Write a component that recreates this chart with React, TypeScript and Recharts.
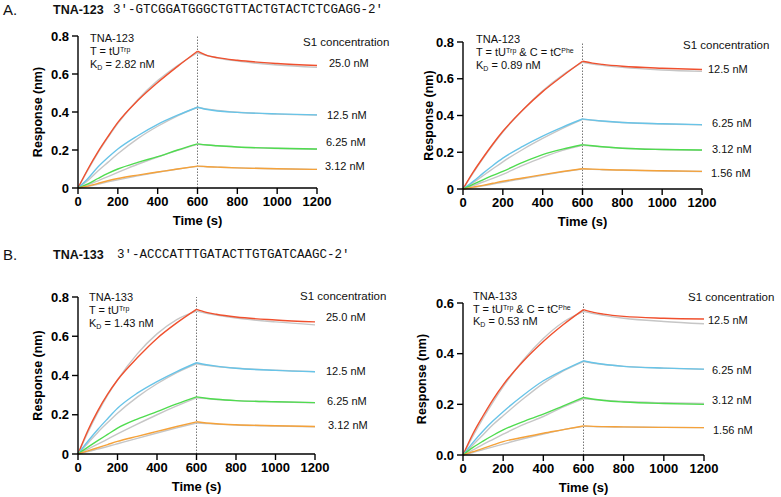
import React from 'react';
import { LineChart, Line, XAxis, YAxis, ReferenceLine, Label } from 'recharts';

const time = [0, 50, 100, 150, 200, 300, 400, 500, 600, 650, 700, 800, 1000, 1200];
const timeTicks = [0, 200, 400, 600, 800, 1000, 1200];
const switchTime = 600; // association -> dissociation

// A, left: TNA-123, T = tU(Trp)
const a1Conc = ['25.0 nM', '12.5 nM', '6.25 nM', '3.12 nM'];
const a1Red = [0, 0.1, 0.19, 0.27, 0.345, 0.46, 0.555, 0.64, 0.72, 0.697, 0.686, 0.672, 0.655, 0.645];
const a1RedFit = [0, 0.095, 0.185, 0.265, 0.34, 0.465, 0.565, 0.645, 0.712, 0.696, 0.684, 0.668, 0.647, 0.635];
const a1Blue = [0, 0.05, 0.11, 0.16, 0.205, 0.275, 0.335, 0.383, 0.425, 0.413, 0.405, 0.398, 0.39, 0.385];
const a1BlueFit = [0, 0.04, 0.09, 0.135, 0.18, 0.26, 0.325, 0.38, 0.425, 0.415, 0.408, 0.399, 0.389, 0.384];
const a1Green = [0, 0.022, 0.05, 0.077, 0.1, 0.135, 0.165, 0.2, 0.232, 0.226, 0.222, 0.216, 0.209, 0.205];
const a1GreenFit = [0, 0.016, 0.038, 0.06, 0.082, 0.125, 0.163, 0.198, 0.23, 0.226, 0.222, 0.215, 0.208, 0.204];
const a1Orange = [0, 0.01, 0.024, 0.038, 0.05, 0.068, 0.084, 0.1, 0.115, 0.112, 0.11, 0.106, 0.101, 0.098];
const a1OrangeFit = [0, 0.009, 0.02, 0.032, 0.043, 0.064, 0.083, 0.1, 0.114, 0.112, 0.11, 0.106, 0.101, 0.098];

// A, right: TNA-123, T = tU(Trp) & C = tC(Phe)
const a2Conc = ['12.5 nM', '6.25 nM', '3.12 nM', '1.56 nM'];
const a2Red = [0, 0.09, 0.17, 0.245, 0.314, 0.43, 0.53, 0.615, 0.695, 0.685, 0.678, 0.668, 0.657, 0.65];
const a2RedFit = [0, 0.085, 0.165, 0.24, 0.31, 0.43, 0.535, 0.62, 0.69, 0.68, 0.673, 0.662, 0.648, 0.64];
const a2Blue = [0, 0.04, 0.085, 0.128, 0.168, 0.232, 0.288, 0.337, 0.381, 0.375, 0.37, 0.362, 0.355, 0.35];
const a2BlueFit = [0, 0.035, 0.072, 0.11, 0.148, 0.215, 0.275, 0.33, 0.379, 0.374, 0.369, 0.362, 0.354, 0.349];
const a2Green = [0, 0.025, 0.05, 0.074, 0.096, 0.145, 0.187, 0.217, 0.241, 0.235, 0.23, 0.222, 0.215, 0.212];
const a2GreenFit = [0, 0.018, 0.038, 0.058, 0.08, 0.128, 0.172, 0.21, 0.238, 0.234, 0.229, 0.222, 0.215, 0.211];
const a2Orange = [0, 0.01, 0.02, 0.031, 0.042, 0.06, 0.078, 0.095, 0.11, 0.108, 0.106, 0.103, 0.099, 0.096];
const a2OrangeFit = [0, 0.008, 0.017, 0.027, 0.037, 0.056, 0.075, 0.093, 0.109, 0.107, 0.105, 0.102, 0.098, 0.095];

// B, left: TNA-133, T = tU(Trp)
const b1Conc = ['25.0 nM', '12.5 nM', '6.25 nM', '3.12 nM'];
const b1Red = [0, 0.12, 0.22, 0.305, 0.377, 0.49, 0.589, 0.668, 0.737, 0.722, 0.712, 0.698, 0.683, 0.673];
const b1RedFit = [0, 0.11, 0.21, 0.3, 0.378, 0.51, 0.612, 0.685, 0.728, 0.717, 0.708, 0.693, 0.673, 0.658];
const b1Blue = [0, 0.065, 0.125, 0.18, 0.233, 0.31, 0.369, 0.42, 0.465, 0.455, 0.448, 0.437, 0.426, 0.419];
const b1BlueFit = [0, 0.055, 0.11, 0.16, 0.208, 0.29, 0.358, 0.415, 0.46, 0.452, 0.446, 0.437, 0.427, 0.42];
const b1Green = [0, 0.035, 0.068, 0.1, 0.132, 0.178, 0.216, 0.255, 0.291, 0.284, 0.279, 0.272, 0.266, 0.262];
const b1GreenFit = [0, 0.025, 0.05, 0.076, 0.102, 0.152, 0.2, 0.245, 0.286, 0.282, 0.278, 0.272, 0.266, 0.261];
const b1Orange = [0, 0.016, 0.032, 0.048, 0.064, 0.09, 0.115, 0.14, 0.164, 0.158, 0.154, 0.149, 0.144, 0.14];
const b1OrangeFit = [0, 0.012, 0.025, 0.038, 0.052, 0.08, 0.107, 0.133, 0.158, 0.155, 0.152, 0.148, 0.143, 0.139];

// B, right: TNA-133, T = tU(Trp) & C = tC(Phe)
const b2Conc = ['12.5 nM', '6.25 nM', '3.12 nM', '1.56 nM'];
const b2Red = [0, 0.085, 0.155, 0.22, 0.277, 0.37, 0.448, 0.515, 0.574, 0.563, 0.556, 0.547, 0.54, 0.537];
const b2RedFit = [0, 0.075, 0.145, 0.21, 0.27, 0.375, 0.46, 0.525, 0.567, 0.558, 0.551, 0.54, 0.527, 0.518];
const b2Blue = [0, 0.05, 0.095, 0.135, 0.171, 0.236, 0.293, 0.335, 0.372, 0.364, 0.358, 0.35, 0.343, 0.339];
const b2BlueFit = [0, 0.04, 0.08, 0.12, 0.155, 0.222, 0.283, 0.332, 0.369, 0.362, 0.357, 0.35, 0.343, 0.338];
const b2Green = [0, 0.03, 0.055, 0.078, 0.099, 0.132, 0.161, 0.194, 0.227, 0.22, 0.215, 0.209, 0.203, 0.2];
const b2GreenFit = [0, 0.02, 0.042, 0.062, 0.082, 0.12, 0.152, 0.19, 0.222, 0.219, 0.216, 0.211, 0.206, 0.203];
const b2Orange = [0, 0.013, 0.026, 0.04, 0.053, 0.07, 0.086, 0.1, 0.115, 0.113, 0.112, 0.111, 0.109, 0.108];
const b2OrangeFit = [0, 0.01, 0.021, 0.032, 0.043, 0.064, 0.083, 0.1, 0.113, 0.112, 0.111, 0.11, 0.109, 0.108];

const ticks08 = [0, 0.2, 0.4, 0.6, 0.8];
const ticks06 = [0, 0.2, 0.4, 0.6];

const colors = ['#f0502e', '#68c4e8', '#4fdc4f', '#f5a23a'];
const fitColor = '#c6c6c6';
const sans = '"Liberation Sans", Arial, Helvetica, sans-serif';
const mono = '"Liberation Mono", "Courier New", monospace';

const zeroPlain = (v: number) => (v === 0 ? '0' : v.toFixed(1));
const oneDecimal = (v: number) => v.toFixed(1);

interface PanelProps {
  x0: number;
  x1: number;
  yTop: number;
  yBottom: number;
  yMax: number;
  yTicks: number[];
  fmt: (v: number) => string;
  series: number[][];
  fits: number[][];
  yLabelOffset: number;
}

const Panel: React.FC<PanelProps> = ({ x0, x1, yTop, yBottom, yMax, yTicks, fmt, series, fits, yLabelOffset }) => {
  // split each trace in association (<= 600 s) and dissociation (>= 600 s) so the peak stays sharp
  const rows = time.map((t, i) => {
    const row: Record<string, number | null> = { t };
    series.forEach((s, k) => {
      row[`sa${k}`] = t <= switchTime ? s[i] : null;
      row[`sd${k}`] = t >= switchTime ? s[i] : null;
    });
    fits.forEach((f, k) => {
      row[`fa${k}`] = t <= switchTime ? f[i] : null;
      row[`fd${k}`] = t >= switchTime ? f[i] : null;
    });
    return row;
  });
  const width = 60 + (x1 - x0) + 20;
  const height = (yBottom - yTop) + 10 + 40;
  const tickStyle = { fontSize: 13, fontWeight: 700, fill: '#000', fontFamily: sans };

  return (
    <div style={{ position: 'absolute', left: x0 - 60, top: yTop - 10 }}>
      <LineChart width={width} height={height} data={rows} margin={{ top: 10, right: 20, bottom: 0, left: 0 }}>
        <XAxis
          dataKey="t"
          type="number"
          domain={[0, 1200]}
          ticks={timeTicks}
          height={40}
          stroke="#000"
          strokeWidth={1.4}
          tickSize={6}
          tickMargin={3}
          tick={tickStyle}
        >
          <Label value="Time (s)" position="insideBottom" offset={3}
            style={{ fontSize: 13, fontWeight: 700, fill: '#000', fontFamily: sans }} />
        </XAxis>
        <YAxis
          type="number"
          domain={[0, yMax]}
          ticks={yTicks}
          width={60}
          stroke="#000"
          strokeWidth={1.4}
          tickSize={6}
          tickMargin={3}
          tickFormatter={fmt}
          tick={tickStyle}
        >
          <Label value="Response (nm)" angle={-90} position="insideLeft" offset={yLabelOffset}
            style={{ fontSize: 12.5, fontWeight: 700, fill: '#000', fontFamily: sans, textAnchor: 'middle' }} />
        </YAxis>
        <ReferenceLine x={switchTime} stroke="#777" strokeWidth={1} strokeDasharray="1.5 1.5" />
        {fits.map((_, k) => ['fa', 'fd'].map((p) => (
          <Line key={`${p}${k}`} dataKey={`${p}${k}`} type="monotone" stroke={fitColor} strokeWidth={1.4}
            dot={false} isAnimationActive={false} />
        )))}
        {series.map((_, k) => ['sa', 'sd'].map((p) => (
          <Line key={`${p}${k}`} dataKey={`${p}${k}`} type="monotone" stroke={colors[k]} strokeWidth={1.4}
            dot={false} isAnimationActive={false} />
        )))}
      </LineChart>
    </div>
  );
};

const Note: React.FC<{ x: number; y: number; size?: number; weight?: number; family?: string; children: React.ReactNode }> = ({
  x, y, size = 11, weight = 400, family = sans, children,
}) => (
  <div style={{
    position: 'absolute', left: x, top: y, transform: 'translateY(-50%)', fontSize: size, fontWeight: weight,
    fontFamily: family, lineHeight: 1.2, whiteSpace: 'nowrap', color: '#111',
  }}>
    {children}
  </div>
);

const Sup = ({ t }: { t: string }) => <span style={{ fontSize: 7, verticalAlign: '0.5em' }}>{t}</span>;
const Sub = ({ t }: { t: string }) => <span style={{ fontSize: 7, verticalAlign: '-0.35em' }}>{t}</span>;

const Info: React.FC<{ x: number; y: number; name: string; phe: boolean; kd: string; gap?: number }> = ({ x, y, name, phe, kd, gap = 13 }) => (
  <>
    <Note x={x} y={y}>{name}</Note>
    <Note x={x} y={y + gap}>T = tU<Sup t="Trp" />{phe ? <> &amp; C = tC<Sup t="Phe" /></> : null}</Note>
    <Note x={x} y={y + gap * 2}>K<Sub t="D" /> = {kd}</Note>
  </>
);

const ConcLabels: React.FC<{ labels: string[]; pos: number[][] }> = ({ labels, pos }) => (
  <>
    {labels.map((l, i) => <Note key={l} x={pos[i][0]} y={pos[i][1]}>{l}</Note>)}
  </>
);

export default function App() {
  return (
    <div style={{ position: 'absolute', left: 0, top: 0, width: 781, height: 497, background: '#fff', overflow: 'hidden' }}>
      <Note x={3} y={10} size={15}>A.</Note>
      <Note x={53} y={10} size={12.5} weight={700}>TNA-123</Note>
      <Note x={113} y={10} size={12.5} family={mono}>3′-GTCGGATGGGCTGTTACTGTACTCTCGAGG-2′</Note>

      <Note x={3} y={255} size={15}>B.</Note>
      <Note x={53} y={255} size={12.5} weight={700}>TNA-133</Note>
      <Note x={117} y={255} size={12.5} family={mono}>3′-ACCCATTTGATACTTGTGATCAAGC-2′</Note>

      <Panel x0={78} x1={317} yTop={36} yBottom={188} yMax={0.8} yTicks={ticks08} fmt={zeroPlain}
        series={[a1Red, a1Blue, a1Green, a1Orange]} fits={[a1RedFit, a1BlueFit, a1GreenFit, a1OrangeFit]} yLabelOffset={20} />
      <Panel x0={463} x1={702} yTop={42} yBottom={189} yMax={0.8} yTicks={ticks08} fmt={zeroPlain}
        series={[a2Red, a2Blue, a2Green, a2Orange]} fits={[a2RedFit, a2BlueFit, a2GreenFit, a2OrangeFit]} yLabelOffset={26} />
      <Panel x0={78} x1={315} yTop={297} yBottom={454} yMax={0.8} yTicks={ticks08} fmt={zeroPlain}
        series={[b1Red, b1Blue, b1Green, b1Orange]} fits={[b1RedFit, b1BlueFit, b1GreenFit, b1OrangeFit]} yLabelOffset={20} />
      <Panel x0={463} x1={704} yTop={303} yBottom={455} yMax={0.6} yTicks={ticks06} fmt={oneDecimal}
        series={[b2Red, b2Blue, b2Green, b2Orange]} fits={[b2RedFit, b2BlueFit, b2GreenFit, b2OrangeFit]} yLabelOffset={19} />

      <Info x={90} y={39} name="TNA-123" phe={false} kd="2.82 nM" />
      <Info x={476} y={40} name="TNA-123" phe kd="0.89 nM" />
      <Info x={89} y={298} name="TNA-133" phe={false} kd="1.43 nM" />
      <Info x={473} y={297} name="TNA-133" phe kd="0.53 nM" gap={12.5} />

      <Note x={303} y={43} size={11.5}>S1 concentration</Note>
      <Note x={683} y={46} size={11.5}>S1 concentration</Note>
      <Note x={300} y={297} size={11.5}>S1 concentration</Note>
      <Note x={688} y={298} size={11.5}>S1 concentration</Note>

      <ConcLabels labels={a1Conc} pos={[[329, 64], [327, 116], [326, 143], [325, 167]]} />
      <ConcLabels labels={a2Conc} pos={[[708, 70], [712, 124], [712, 150], [711, 174]]} />
      <ConcLabels labels={b1Conc} pos={[[326, 318], [326, 372], [327, 402], [328, 426]]} />
      <ConcLabels labels={b2Conc} pos={[[708, 321], [712, 371], [712, 401], [713, 431]]} />
    </div>
  );
}
